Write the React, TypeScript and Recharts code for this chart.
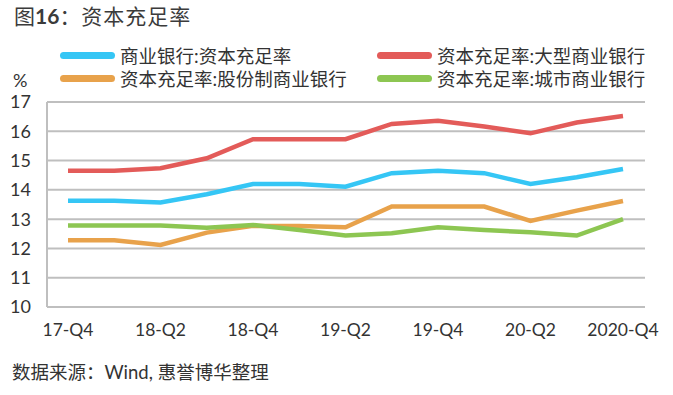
import React from "react";
import { LineChart, Line, XAxis, YAxis, CartesianGrid } from "recharts";

const quarters = ["17-Q4", "18-Q1", "18-Q2", "18-Q3", "18-Q4", "19-Q1", "19-Q2", "19-Q3", "19-Q4", "20-Q1", "20-Q2", "20-Q3", "2020-Q4"];
const commercial = [13.63, 13.63, 13.57, 13.85, 14.2, 14.2, 14.11, 14.57, 14.65, 14.57, 14.2, 14.43, 14.71];
const large = [14.65, 14.65, 14.74, 15.08, 15.73, 15.73, 15.73, 16.25, 16.36, 16.16, 15.93, 16.3, 16.52];
const joint = [12.28, 12.28, 12.12, 12.54, 12.77, 12.77, 12.72, 13.43, 13.43, 13.43, 12.94, 13.29, 13.62];
const city = [12.78, 12.78, 12.78, 12.71, 12.8, 12.63, 12.44, 12.52, 12.72, 12.63, 12.55, 12.44, 13.0];
const yTicks = [10, 11, 12, 13, 14, 15, 16, 17];

const seriesNames = ["商业银行:资本充足率", "资本充足率:大型商业银行", "资本充足率:股份制商业银行", "资本充足率:城市商业银行"];
const colors = ["#35c6f5", "#e35b59", "#e8a24b", "#8dc652"];

const data = quarters.map((q, i) => ({
  q,
  s0: commercial[i],
  s1: large[i],
  s2: joint[i],
  s3: city[i],
}));

const FONT = "Lato, 'Noto Sans CJK SC', sans-serif";

const legendPos = [
  { left: 60, top: 55 },
  { left: 377, top: 55 },
  { left: 60, top: 78 },
  { left: 377, top: 78 },
];

export default function App() {
  return (
    <div style={{ position: "absolute", left: 0, top: 0, width: 673, height: 395, background: "#fff", fontFamily: FONT, color: "#333" }}>
      <div style={{ position: "absolute", left: 14, top: 3, fontSize: 21, color: "#3b3b3b", whiteSpace: "nowrap", lineHeight: "26px" }}>
        <span>图</span>
        <span style={{ fontWeight: 700 }}>16</span>
        <span style={{ letterSpacing: 1 }}>：资本充足率</span>
      </div>
      {seriesNames.map((n, i) => (
        <div key={n} style={{ position: "absolute", left: legendPos[i].left, top: legendPos[i].top - 12, height: 24, display: "flex", alignItems: "center", whiteSpace: "nowrap" }}>
          <div style={{ width: 55, height: 7, borderRadius: 4, background: colors[i] }} />
          <span style={{ marginLeft: 5, fontSize: 18.5, color: "#333" }}>{n}</span>
        </div>
      ))}
      <div style={{ position: "absolute", left: 13, top: 69, fontSize: 18, color: "#333" }}>%</div>
      <div style={{ position: "absolute", left: 0, top: 0 }}>
        <LineChart width={673} height={395} data={data} margin={{ top: 102, right: 28, bottom: 58, left: 0 }}>
          <CartesianGrid vertical={false} stroke="#bfbfbf" strokeWidth={2} />
          <XAxis
            dataKey="q"
            interval={1}
            axisLine={false}
            tickLine={false}
            tickSize={0}
            tickMargin={17}
            height={30}
            padding={{ left: 21, right: 22 }}
            tick={{ fontSize: 17.5, fill: "#333", fontFamily: FONT }}
          />
          <YAxis
            domain={[10, 17]}
            ticks={yTicks}
            width={47}
            tickLine={false}
            tickSize={0}
            tickMargin={16}
            axisLine={{ stroke: "#bfbfbf", strokeWidth: 2 }}
            tick={{ fontSize: 18, fill: "#333", fontFamily: FONT }}
            interval={0}
          />
          {[0, 1, 2, 3].map((i) => (
            <Line
              key={i}
              dataKey={"s" + i}
              stroke={colors[i]}
              strokeWidth={4.5}
              dot={false}
              type="linear"
              isAnimationActive={false}
            />
          ))}
        </LineChart>
      </div>
      <div style={{ position: "absolute", left: 12, top: 360, fontSize: 18.5, color: "#333", whiteSpace: "nowrap", lineHeight: "24px" }}>
        数据来源：Wind, 惠誉博华整理
      </div>
    </div>
  );
}
